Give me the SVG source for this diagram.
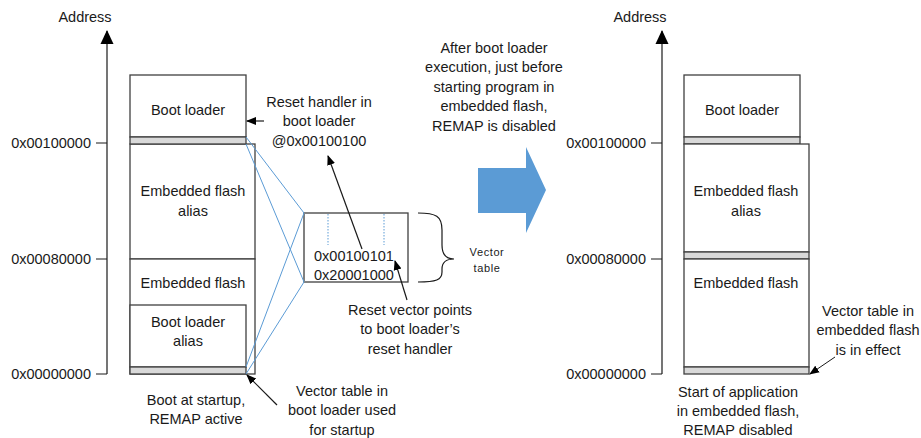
<svg xmlns="http://www.w3.org/2000/svg" width="921" height="438" viewBox="0 0 921 438">
<defs>
<style>
text{font-family:"Liberation Sans",Arial,sans-serif;font-size:14.5px;fill:#1a1a1a}
.c{text-anchor:middle}
.r{text-anchor:end}
.box{fill:#fff;stroke:#404040;stroke-width:1.3}
.band{fill:#d9d9d9;stroke:#404040;stroke-width:1.3}
.ln{stroke:#1a1a1a;stroke-width:1.2;fill:none}
.blue{stroke:#5b9bd5;stroke-width:1;fill:none}
.sm{font-size:11px;letter-spacing:0.6px}
</style>
<marker id="ah" markerWidth="10" markerHeight="10" refX="9" refY="5" orient="auto" markerUnits="userSpaceOnUse"><path d="M0,1 L10,5 L0,9 Z" fill="#000"/></marker>
<marker id="axh" markerWidth="14" markerHeight="16" refX="13" refY="7" orient="auto" markerUnits="userSpaceOnUse"><path d="M0,0.5 L14,7 L0,13.5 Z" fill="#000"/></marker>
</defs>

<!-- Left memory map -->
<g id="left-axis">
<text class="c" x="85" y="22">Address</text>
<path class="ln" d="M107,374 L107,31" marker-end="url(#axh)"/>
<path class="ln" d="M96,143 H107 M96,259 H107 M96,374 H107"/>
<text class="r" x="91" y="148">0x00100000</text>
<text class="r" x="91" y="264">0x00080000</text>
<text class="r" x="91" y="379">0x00000000</text>
</g>
<g id="left-emb-alias">
<rect class="box" x="130" y="144" width="125" height="115"/>
<text class="c" x="193" y="196">Embedded flash</text>
<text class="c" x="193" y="216">alias</text>
</g>
<g id="left-emb-flash">
<rect class="box" x="130" y="259" width="125" height="115"/>
<text class="c" x="193" y="288">Embedded flash</text>
</g>
<g id="left-boot-loader">
<rect class="box" x="130" y="75" width="116" height="62"/>
<rect class="band" x="130" y="137" width="116" height="7"/>
<text class="c" x="188" y="115">Boot loader</text>
</g>
<g id="left-boot-alias">
<rect class="box" x="130" y="305" width="116" height="62"/>
<rect class="band" x="130" y="367" width="116" height="7"/>
<text class="c" x="188" y="327">Boot loader</text>
<text class="c" x="188" y="346">alias</text>
</g>

<!-- Vector table -->
<g id="vector-table">
<rect x="304" y="213" width="104" height="69" fill="#fff" stroke="#404040" stroke-width="1.3"/>
<line x1="304" y1="213" x2="304" y2="282" stroke="#808080" stroke-width="2"/>
<path d="M328,214 V245 M384,214 V245" stroke="#5b9bd5" stroke-width="1" stroke-dasharray="1.5,1.5" fill="none"/>
<text x="314" y="261">0x00100101</text>
<text x="314" y="280">0x20001000</text>
</g>
<g id="brace">
<path class="ln" d="M418,213 C436,213 442,216 442,230 L442,245 C442,255 446,259 454,259 C446,259 442,262 442,269 L442,272 C442,280 436,282 418,282" stroke-width="1.1"/>
<text class="c sm" x="487" y="256">Vector</text>
<text class="c sm" x="487" y="272">table</text>
</g>

<!-- Labels -->
<g id="label-reset-handler">
<text class="c" x="319" y="107">Reset handler in</text>
<text class="c" x="319" y="126">boot loader</text>
<text class="c" x="319" y="146">@0x00100100</text>
</g>
<g id="label-reset-vector">
<text class="c" x="410" y="315">Reset vector points</text>
<text class="c" x="410" y="334">to boot loader’s</text>
<text class="c" x="410" y="354">reset handler</text>
</g>
<g id="label-boot-startup">
<text class="c" x="196" y="405">Boot at startup,</text>
<text class="c" x="196" y="424">REMAP active</text>
</g>
<g id="label-vt-boot">
<text class="c" x="342" y="396">Vector table in</text>
<text class="c" x="342" y="415">boot loader used</text>
<text class="c" x="342" y="435">for startup</text>
</g>
<g id="label-after">
<text class="c" x="494" y="53">After boot loader</text>
<text class="c" x="494" y="72">execution, just before</text>
<text class="c" x="494" y="92">starting program in</text>
<text class="c" x="494" y="111">embedded flash,</text>
<text class="c" x="494" y="131">REMAP is disabled</text>
</g>
<g id="big-arrow">
<path d="M478,168 H526 V147 L546,190 L526,233 V213 H478 Z" fill="#5b9bd5"/>
</g>

<!-- Right memory map -->
<g id="right-axis">
<text class="c" x="640" y="22">Address</text>
<path class="ln" d="M662,374 L662,31" marker-end="url(#axh)"/>
<path class="ln" d="M651,143 H662 M651,259 H662 M651,374 H662"/>
<text class="r" x="646" y="148">0x00100000</text>
<text class="r" x="646" y="264">0x00080000</text>
<text class="r" x="646" y="379">0x00000000</text>
</g>
<g id="right-boot-loader">
<rect class="box" x="684" y="75" width="116" height="62"/>
<rect class="band" x="684" y="137" width="116" height="7"/>
<text class="c" x="742" y="115">Boot loader</text>
</g>
<g id="right-emb-alias">
<rect class="box" x="684" y="144" width="125" height="108"/>
<rect class="band" x="684" y="252" width="125" height="7"/>
<text class="c" x="746" y="196">Embedded flash</text>
<text class="c" x="746" y="216">alias</text>
</g>
<g id="right-emb-flash">
<rect class="box" x="684" y="259" width="125" height="108"/>
<rect class="band" x="684" y="367" width="125" height="7"/>
<text class="c" x="746" y="288">Embedded flash</text>
</g>
<g id="label-vt-emb">
<text class="c" x="868" y="316">Vector table in</text>
<text class="c" x="868" y="335">embedded flash</text>
<text class="c" x="868" y="355">is in effect</text>
</g>
<g id="label-start-app">
<text class="c" x="738" y="397">Start of application</text>
<text class="c" x="738" y="416">in embedded flash,</text>
<text class="c" x="738" y="435">REMAP disabled</text>
</g>

<!-- Connectors -->
<g id="connectors">
<path class="blue" d="M246,137 L304,213 M246,144 L304,282 M246,367 L304,213 M246,374 L304,282"/>
<line class="ln" x1="264" y1="121" x2="247" y2="121" marker-end="url(#ah)"/>
<line class="ln" x1="362" y1="249" x2="328" y2="156" marker-end="url(#ah)"/>
<line class="ln" x1="407" y1="300" x2="395" y2="261" marker-end="url(#ah)"/>
<line class="ln" x1="277" y1="405" x2="247" y2="375" marker-end="url(#ah)"/>
<line x1="835" y1="357" x2="810" y2="374" stroke="#1a1a1a" stroke-width="1" marker-end="url(#ah)"/>
</g>
</svg>
